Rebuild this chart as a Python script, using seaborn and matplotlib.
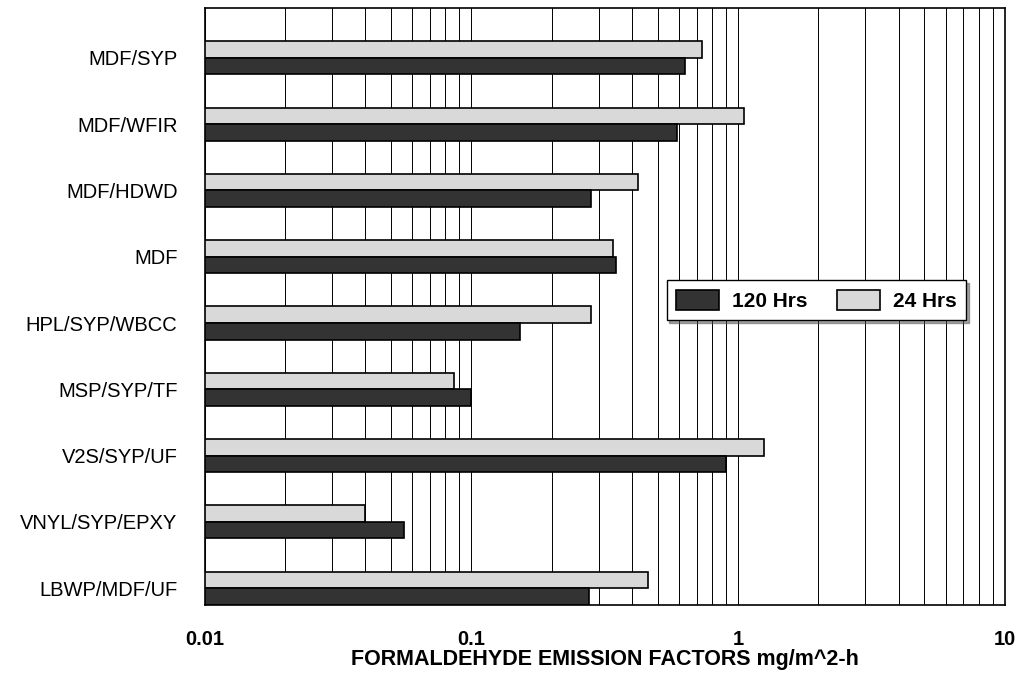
import pandas as pd
import numpy as np
import matplotlib
matplotlib.use('Agg')
import matplotlib.pyplot as plt
import seaborn as sns

# Datos (mg/m^2-h)
materiales = ['MDF/SYP', 'MDF/WFIR', 'MDF/HDWD', 'MDF', 'HPL/SYP/WBCC',
              'MSP/SYP/TF', 'V2S/SYP/UF', 'VNYL/SYP/EPXY', 'LBWP/MDF/UF']
hrs_24 = [0.73, 1.05, 0.42, 0.34, 0.28, 0.086, 1.25, 0.040, 0.46]
hrs_120 = [0.63, 0.59, 0.28, 0.35, 0.152, 0.10, 0.90, 0.056, 0.277]

df = pd.DataFrame({
    'material': materiales * 2,
    'valor': hrs_24 + hrs_120,
    'serie': ['24 Hrs'] * len(materiales) + ['120 Hrs'] * len(materiales),
})

sns.set_style('white')
plt.rcParams['font.family'] = ['Liberation Sans', 'DejaVu Sans']
plt.rcParams['text.color'] = 'black'
plt.rcParams['xtick.color'] = 'black'
plt.rcParams['ytick.color'] = 'black'
plt.rcParams['axes.labelcolor'] = 'black'

fig, ax = plt.subplots(figsize=(10.18, 6.81), dpi=100)
fig.subplots_adjust(left=0.201, right=0.987, top=0.988, bottom=0.112)

paleta = {'24 Hrs': '#d9d9d9', '120 Hrs': '#333333'}
sns.barplot(data=df, y='material', x='valor', hue='serie',
            hue_order=['24 Hrs', '120 Hrs'], palette=paleta, order=materiales,
            width=0.5, edgecolor='black', linewidth=1.2, ax=ax, orient='h',
            legend=True)

ax.set_xscale('log')
ax.set_xlim(0.01, 10)
ax.set_ylim(len(materiales) - 0.75, -0.75)

# Rejilla vertical en ticks mayores y menores
ax.grid(True, which='both', axis='x', color='black', linewidth=0.7)
ax.grid(False, axis='y')
ax.set_axisbelow(True)
for s in ax.spines.values():
    s.set_color('black')
    s.set_linewidth(1.2)

ax.set_xticks([0.01, 0.1, 1, 10])
ax.set_xticklabels(['0.01', '0.1', '1', '10'], fontsize=14.5, fontweight='bold')
ax.tick_params(axis='x', which='both', length=0, pad=18)

# marcas pequenas en el eje y en los bordes de cada par de barras
pos = np.arange(len(materiales))
ax.set_yticks(np.concatenate([pos - 0.25, pos + 0.25]), minor=True)
ax.tick_params(axis='y', which='minor', length=4, width=1, direction='out')
ax.tick_params(axis='y', which='major', length=0, pad=19.5, labelsize=14.5)
ax.set_xlabel('FORMALDEHYDE EMISSION FACTORS mg/m^2-h', fontsize=15.5,
              fontweight='bold', labelpad=0)
ax.set_ylabel('')

# Leyenda: 120 Hrs primero
handles, labels = ax.get_legend_handles_labels()
orden = [labels.index('120 Hrs'), labels.index('24 Hrs')]
ax.legend([handles[i] for i in orden], [labels[i] for i in orden],
          ncol=2, loc='lower left', bbox_to_anchor=(0.5775, 0.477, 0.374, 0.06),
          mode='expand', prop={'weight': 'bold', 'size': 15},
          frameon=True, fancybox=False, shadow=True, edgecolor='black',
          handlelength=2.07, handleheight=1.1, columnspacing=0.48,
          handletextpad=0.62, borderpad=0.45, borderaxespad=0)

plt.savefig('out.png', dpi=100)
